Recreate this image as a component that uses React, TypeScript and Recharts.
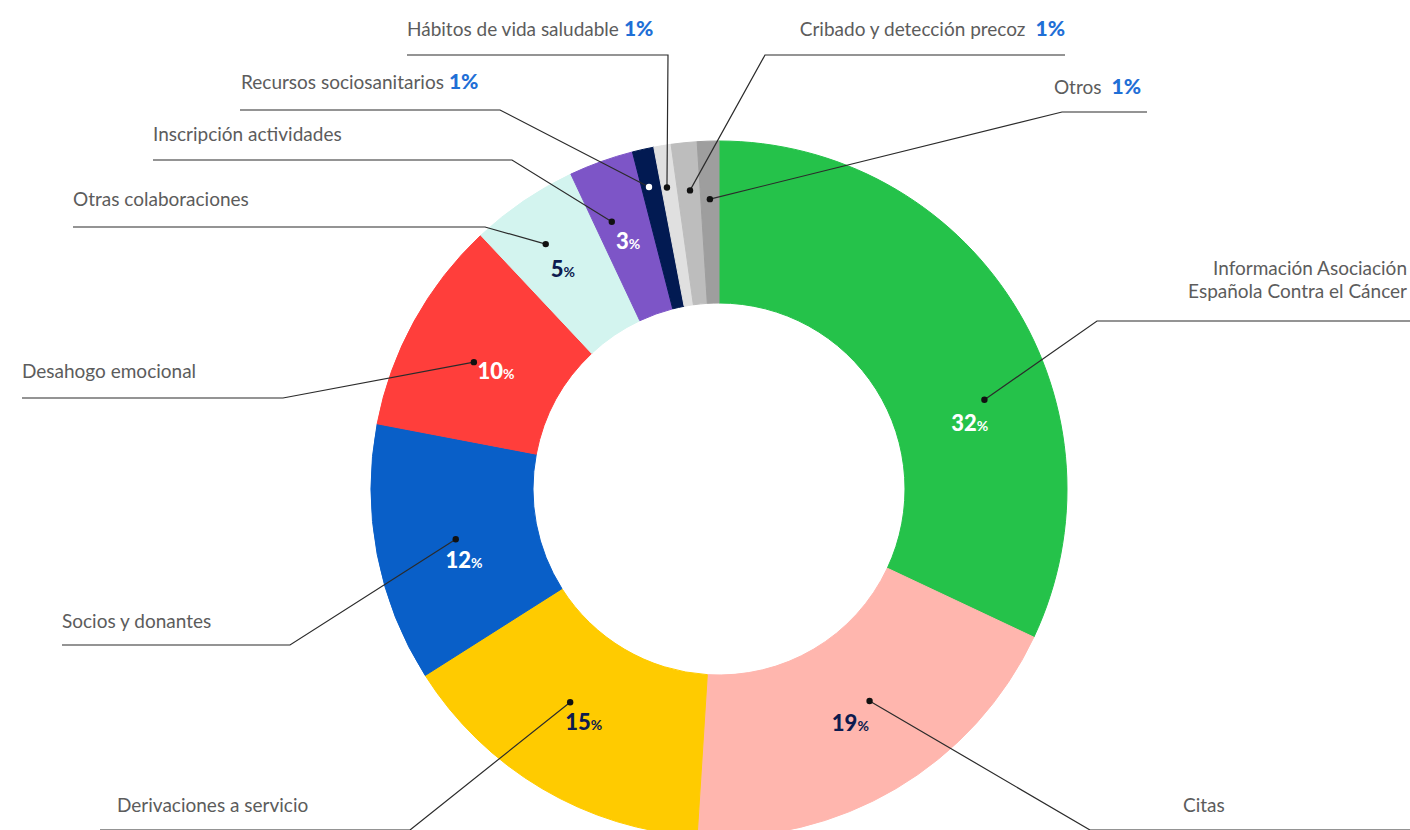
import { PieChart, Pie, Cell } from 'recharts'

// datos del gráfico
const categories = [
  'Información Asociación\nEspañola Contra el Cáncer',
  'Citas',
  'Derivaciones a servicio',
  'Socios y donantes',
  'Desahogo emocional',
  'Otras colaboraciones',
  'Inscripción actividades',
  'Recursos sociosanitarios',
  'Hábitos de vida saludable',
  'Cribado y detección precoz',
  'Otros',
]
const values = [32, 19, 15, 12, 10, 5, 3, 1, 0.8, 1.2, 1]

const colors = ['#25c24a', '#ffb6ae', '#ffcb00', '#095fc8', '#ff3e3b', '#d3f4ef', '#7d55c7', '#021a52', '#e0e0e0', '#bdbdbd', '#9e9e9e']

// posiciones de etiquetas: t = fracción a lo largo del sector, r = radio
const layout = [
  { dot: [0.62, 280], pct: [0.655, 259], pctColor: '#fff', elbow: [1097, 321], end: [1410, 321], tx: 1407, ty: 275, anchor: 'end', inTitle: false },
  { dot: [0.43, 260], pct: [0.52, 269], pctColor: '#0d1b4f', elbow: [1090, 830], end: [1410, 830], tx: 1183, ty: 812, anchor: 'start', inTitle: false },
  { dot: [0.58, 260], pct: [0.49, 270], pctColor: '#0d1b4f', elbow: [410, 830], end: [100, 830], tx: 117, ty: 812, anchor: 'start', inTitle: false },
  { dot: [0.5, 268], pct: [0.385, 265], pctColor: '#fff', elbow: [290, 645], end: [62, 645], tx: 62, ty: 628, anchor: 'start', inTitle: false },
  { dot: [0.46, 276], pct: [0.47, 252], pctColor: '#fff', elbow: [283, 398], end: [22, 398], tx: 22, ty: 378, anchor: 'start', inTitle: false },
  { dot: [0.44, 300], pct: [0.43, 269], pctColor: '#0d1b4f', elbow: [485, 227], end: [73, 227], tx: 73, ty: 206, anchor: 'start', inTitle: false },
  { dot: [0.31, 288], pct: [0.46, 263], pctColor: '#fff', elbow: [512, 160], end: [153, 160], tx: 153, ty: 141, anchor: 'start', inTitle: false },
  { dot: [0.375, 310], pct: null, dotColor: '#fff', elbow: [500, 110], end: [240, 110], tx: 241, ty: 89, anchor: 'start', inTitle: true },
  { dot: [0.35, 306], pct: null, elbow: [668, 55], end: [407, 55], tx: 407, ty: 36, anchor: 'start', inTitle: true },
  { dot: [0.55, 300], pct: null, elbow: [765, 55], end: [1065, 55], tx: 1065, ty: 36, anchor: 'end', inTitle: true },
  { dot: [0.5, 290], pct: null, elbow: [1062, 112], end: [1147, 112], tx: 1141, ty: 94, anchor: 'end', inTitle: true },
]

const chartData = categories.map((name, i) => ({ name, value: values[i] }))

const FONT = 'Lato, "Open Sans", sans-serif'
const TEXT = '#5c5c5c'
const BLUE = '#1f6fd6'

function polar(cx: number, cy: number, r: number, angle: number) {
  const rad = (-angle * Math.PI) / 180
  return [cx + r * Math.cos(rad), cy + r * Math.sin(rad)]
}

function renderLabel(props: any) {
  const { cx, cy, startAngle, endAngle, index, value } = props
  const l = layout[index]
  const at = (t: number) => startAngle + t * (endAngle - startAngle)
  const [dx, dy] = polar(cx, cy, l.dot[1], at(l.dot[0]))
  const pctText = String(Math.round(value))
  const lines = categories[index].split('\n')
  const lineH = 23

  return (
    <g key={`lbl-${index}`}>
      <polyline
        points={`${dx},${dy} ${l.elbow[0]},${l.elbow[1]} ${l.end[0]},${l.end[1]}`}
        fill="none"
        stroke="#2b2b2b"
        strokeWidth={1.2}
      />
      <circle cx={dx} cy={dy} r={3.2} fill={l.dotColor || '#111'} />
      {l.pct && (() => {
        const [px, py] = polar(cx, cy, l.pct[1], at(l.pct[0]))
        return (
          <text x={px} y={py + 7} textAnchor="middle" fontFamily={FONT} fill={l.pctColor}>
            <tspan fontSize={22} fontWeight={900}>{pctText}</tspan>
            <tspan fontSize={14} fontWeight={700}>%</tspan>
          </text>
        )
      })()}
      {lines.map((line, k) => (
        <text
          key={k}
          x={l.tx}
          y={l.ty + k * lineH}
          textAnchor={l.anchor}
          fontFamily={FONT}
          fontSize={19}
          fontWeight={400}
          fill={TEXT}
        >
          {line}
          {l.inTitle && k === lines.length - 1 && (
            <tspan fill={BLUE} fontWeight={900} fontSize={21}>{index === 9 || index === 10 ? '\u00a0 ' : ' '}{pctText}%</tspan>
          )}
        </text>
      ))}
    </g>
  )
}

export default function App() {
  return (
    <div style={{ position: 'absolute', left: 0, top: 0, width: 1410, height: 830, background: '#fff' }}>
      <PieChart width={1410} height={830}>
        <Pie
          data={chartData}
          dataKey="value"
          nameKey="name"
          cx={714}
          cy={484}
          innerRadius={186}
          outerRadius={348}
          startAngle={90}
          endAngle={-270}
          label={renderLabel}
          labelLine={false}
          isAnimationActive={false}
        >
          {chartData.map((d, i) => (
            <Cell key={d.name} fill={colors[i]} stroke={colors[i]} />
          ))}
        </Pie>
      </PieChart>
    </div>
  )
}
